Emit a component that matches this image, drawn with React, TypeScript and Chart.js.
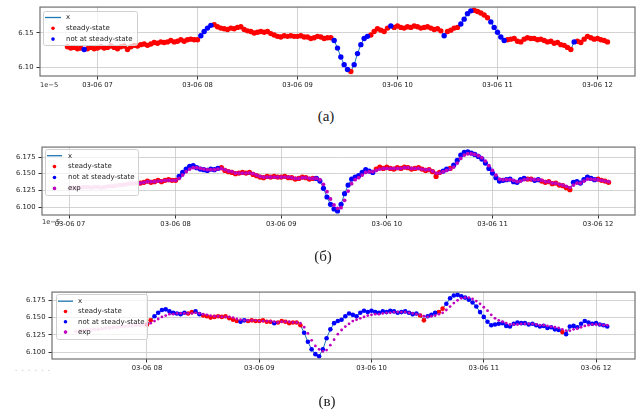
import React, { useEffect, useRef } from "react";
import { Chart, registerables } from "chart.js";
Chart.register(...registerables);

// ---------- data ----------
const STEP_MIN = 2;
const X_START = "06:42";
// raw signal x (1e-5 scaled values), one value every 2 minutes from 06:42 to 12:06
const X_VALUES = [
  6.130, 6.128, 6.129, 6.127, 6.128, 6.126, 6.127, 6.129, 6.127,
  6.128, 6.130, 6.128, 6.129, 6.131, 6.129, 6.127, 6.130, 6.131, 6.126, 6.130, 6.132, 6.131, 6.133, 6.134, 6.132, 6.134, 6.136, 6.135, 6.137, 6.136, 6.137, 6.139, 6.137, 6.138, 6.140, 6.138, 6.140, 6.141, 6.140,
  6.140, 6.146, 6.152, 6.157, 6.161, 6.162, 6.159, 6.157, 6.156, 6.155, 6.157, 6.156, 6.158, 6.159, 6.155, 6.153, 6.152, 6.150, 6.151, 6.152, 6.151, 6.152, 6.149, 6.147, 6.145, 6.144, 6.146, 6.145, 6.146, 6.145,
  6.145, 6.146, 6.144, 6.144, 6.142, 6.143, 6.145, 6.144, 6.142, 6.143, 6.143, 6.139, 6.128, 6.115, 6.104, 6.097, 6.094, 6.104, 6.120, 6.133, 6.142, 6.145, 6.147, 6.152, 6.156, 6.154, 6.152, 6.157, 6.160, 6.158,
  6.160, 6.158, 6.157, 6.159, 6.158, 6.160, 6.159, 6.157, 6.158, 6.159, 6.157, 6.155, 6.156, 6.153, 6.146, 6.152, 6.154, 6.157, 6.158, 6.163, 6.170, 6.178, 6.182, 6.183, 6.181, 6.179, 6.176, 6.172, 6.166, 6.158,
  6.151, 6.144, 6.139, 6.140, 6.141, 6.142, 6.138, 6.137, 6.141, 6.143, 6.142, 6.142, 6.140, 6.141, 6.139, 6.137, 6.138, 6.135, 6.136, 6.133, 6.132, 6.129, 6.126, 6.137, 6.138, 6.136, 6.141, 6.145, 6.143, 6.141,
  6.142, 6.140, 6.139, 6.137,
];

// exp series of panel (б), from 07:00
const EXP_B_START = "07:00";
const EXP_B = [
  6.128, 6.129, 6.129, 6.129, 6.130, 6.130, 6.129, 6.130, 6.130, 6.129, 6.130, 6.131, 6.131, 6.132, 6.133, 6.133, 6.134, 6.135, 6.135, 6.136, 6.136, 6.137, 6.138, 6.138, 6.138, 6.139, 6.139, 6.140, 6.140, 6.140,
  6.140, 6.143, 6.148, 6.153, 6.157, 6.159, 6.159, 6.158, 6.157, 6.156, 6.156, 6.156, 6.157, 6.158, 6.156, 6.154, 6.153, 6.151, 6.151, 6.151, 6.151, 6.151, 6.150, 6.148, 6.146, 6.145, 6.145, 6.145, 6.145, 6.145,
  6.145, 6.145, 6.145, 6.144, 6.143, 6.143, 6.144, 6.144, 6.143, 6.143, 6.143, 6.141, 6.134, 6.123, 6.112, 6.103, 6.098, 6.099, 6.110, 6.124, 6.135, 6.141, 6.144, 6.148, 6.152, 6.153, 6.153, 6.155, 6.157, 6.158,
  6.158, 6.158, 6.158, 6.158, 6.158, 6.159, 6.159, 6.158, 6.158, 6.158, 6.157, 6.156, 6.156, 6.154, 6.151, 6.151, 6.153, 6.155, 6.157, 6.160, 6.166, 6.173, 6.178, 6.180, 6.180, 6.179, 6.177, 6.174, 6.169, 6.162,
  6.155, 6.148, 6.142, 6.141, 6.141, 6.141, 6.140, 6.138, 6.139, 6.141, 6.142, 6.142, 6.141, 6.141, 6.140, 6.138, 6.138, 6.136, 6.136, 6.134, 6.133, 6.131, 6.129, 6.133, 6.136, 6.136, 6.139, 6.142, 6.142, 6.141,
  6.141, 6.140, 6.139, 6.138,
];

// exp series of panel (в), from 07:22
const EXP_C_START = "07:22";
const EXP_C = [
  6.130, 6.131, 6.131, 6.132, 6.132, 6.133, 6.133, 6.134, 6.135, 6.135, 6.136, 6.136, 6.137, 6.137, 6.138, 6.138, 6.139, 6.139, 6.140,
  6.140, 6.142, 6.145, 6.148, 6.151, 6.153, 6.155, 6.155, 6.156, 6.156, 6.156, 6.156, 6.156, 6.157, 6.156, 6.155, 6.154, 6.153, 6.152, 6.152, 6.151, 6.151, 6.151, 6.150, 6.148, 6.147, 6.146, 6.146, 6.146, 6.146,
  6.145, 6.145, 6.145, 6.145, 6.144, 6.143, 6.144, 6.144, 6.144, 6.143, 6.143, 6.142, 6.136, 6.127, 6.117, 6.109, 6.104, 6.101, 6.103, 6.110, 6.118, 6.126, 6.132, 6.137, 6.141, 6.145, 6.147, 6.149, 6.151, 6.153,
  6.154, 6.155, 6.155, 6.156, 6.157, 6.157, 6.158, 6.158, 6.158, 6.158, 6.157, 6.156, 6.155, 6.154, 6.152, 6.151, 6.152, 6.153, 6.155, 6.157, 6.161, 6.166, 6.171, 6.175, 6.178, 6.179, 6.179, 6.177, 6.174, 6.170,
  6.165, 6.160, 6.154, 6.149, 6.146, 6.144, 6.142, 6.140, 6.140, 6.140, 6.141, 6.141, 6.141, 6.141, 6.140, 6.139, 6.139, 6.138, 6.137, 6.136, 6.135, 6.133, 6.131, 6.131, 6.133, 6.134, 6.136, 6.138, 6.139, 6.140,
  6.140, 6.140, 6.139, 6.139,
];

// "not at steady-state" intervals per panel
const NONSTEADY_A = [["06:51", "06:53"], ["08:01", "08:09"], ["09:21", "09:31"], ["09:33", "09:43"], ["09:55", "09:57"], ["10:27", "10:29"], ["10:37", "10:45"], ["10:55", "11:05"], ["11:45", "11:47"]];
const NONSTEADY_B = [["08:01", "08:25"], ["09:19", "09:53"], ["10:31", "10:35"], ["10:37", "11:19"], ["11:23", "11:27"], ["11:45", "11:59"]];
const NONSTEADY_C = [["08:03", "08:21"], ["08:26", "08:28"], ["08:50", "08:52"], ["09:07", "09:09"], ["09:23", "10:25"], ["10:29", "10:35"], ["10:39", "11:41"], ["11:43", "12:07"]];

const X_TICKS_AB = [7, 8, 9, 10, 11, 12];
const X_TICKS_C = [8, 9, 10, 11, 12];
const Y_TICKS_A = [6.10, 6.15];
const Y_TICKS_BC = [6.100, 6.125, 6.150, 6.175];

// ---------- helpers ----------
const toMin = (s: string) => { const [h, m] = s.split(":").map(Number); return h * 60 + m; };
const inRanges = (t: number, r: string[][]) => r.some(([a, b]) => t >= toMin(a) && t <= toMin(b));
const series = (start: string, vals: number[]) => { const s = toMin(start); return vals.map((y, i) => ({ t: s + i * STEP_MIN, y })); };
const pt = (p: { t: number; y: number }) => ({ x: p.t / 60, y: p.y });

const FONT = "DejaVu Sans";

const framePlugin = {
  id: "frame",
  afterDatasetsDraw(chart: any) {
    const { ctx, chartArea: a } = chart;
    ctx.save();
    ctx.strokeStyle = "#707070";
    ctx.lineWidth = 1.2;
    ctx.strokeRect(a.left, a.top, a.right - a.left, a.bottom - a.top);
    ctx.restore();
  },
};

const legendPlugin = {
  id: "mplLegend",
  afterDatasetsDraw(chart: any, _args: any, o: any) {
    const ctx = chart.ctx;
    const items = chart.data.datasets.filter((d: any) => d.label);
    ctx.save();
    ctx.fillStyle = "rgba(255,255,255,0.72)";
    ctx.strokeStyle = "#d0d0d0";
    ctx.lineWidth = 1;
    ctx.beginPath();
    if (ctx.roundRect) ctx.roundRect(o.x + 0.5, o.y + 0.5, o.w, o.h, 2);
    else ctx.rect(o.x + 0.5, o.y + 0.5, o.w, o.h);
    ctx.fill();
    ctx.stroke();
    items.forEach((d: any, i: number) => {
      const cy = o.y + o.first + i * o.row;
      if (d.showLine) {
        ctx.strokeStyle = d.borderColor;
        ctx.lineWidth = 1.3;
        ctx.beginPath();
        ctx.moveTo(o.hx0, cy);
        ctx.lineTo(o.hx1, cy);
        ctx.stroke();
      } else {
        ctx.fillStyle = d.backgroundColor;
        ctx.beginPath();
        ctx.arc((o.hx0 + o.hx1) / 2, cy, o.dot, 0, Math.PI * 2);
        ctx.fill();
      }
      ctx.fillStyle = "#222";
      ctx.font = `7px "${FONT}"`;
      ctx.textBaseline = "middle";
      ctx.fillText(d.label, o.tx, cy);
    });
    ctx.restore();
  },
};

type PanelSpec = {
  from: string;
  nonSteady: string[][];
  exp?: { start: string; vals: number[]; r: number };
  r: number;
  xmin: number; xmax: number; ymin: number; ymax: number;
  xTicks: number[]; yTicks: number[]; yDec: number;
  padTop: number; yWidth: number; xHeight: number;
  legend: any;
};

function buildConfig(p: PanelSpec): any {
  const from = toMin(p.from);
  const raw = series(X_START, X_VALUES).filter((q) => q.t >= from);
  const datasets: any[] = [
    { label: "x", data: raw.map(pt), showLine: true, borderColor: "#1f77b4", borderWidth: 1, pointRadius: 0, order: 4 },
    { label: "steady-state", data: raw.filter((q) => !inRanges(q.t, p.nonSteady)).map(pt), backgroundColor: "#ff0000", pointRadius: p.r, pointBorderWidth: 0, borderWidth: 0, order: 3 },
    { label: "not at steady-state", data: raw.filter((q) => inRanges(q.t, p.nonSteady)).map(pt), backgroundColor: "#0000ff", pointRadius: p.r, pointBorderWidth: 0, borderWidth: 0, order: 2 },
  ];
  if (p.exp) {
    const e = series(p.exp.start, p.exp.vals);
    datasets.push({ label: "exp", data: e.filter((q) => q.t >= from).map(pt), backgroundColor: "#bf00bf", pointRadius: p.exp.r, pointBorderWidth: 0, borderWidth: 0, order: 0 });
    datasets.push({ label: "", data: e.filter((q) => q.t < from).map(pt), backgroundColor: "rgba(228,100,195,0.5)", pointRadius: p.exp.r + 0.5, pointBorderWidth: 0, borderWidth: 0, order: 1 });
  }
  const tickFont = { family: FONT, size: 6.8 };
  const grid = { color: "#c8c8c8", lineWidth: 0.8, tickColor: "#333", tickLength: 3.5, tickWidth: 1, drawTicks: true };
  return {
    type: "scatter",
    data: { datasets },
    options: {
      responsive: false,
      animation: false,
      events: [],
      layout: { padding: { top: p.padTop, right: 8, left: 0, bottom: 0 } },
      plugins: { legend: { display: false }, tooltip: { enabled: false }, mplLegend: p.legend },
      scales: {
        x: {
          type: "linear", min: p.xmin, max: p.xmax,
          afterBuildTicks: (s: any) => { s.ticks = p.xTicks.map((v) => ({ value: v })); },
          afterFit: (s: any) => { s.height = p.xHeight; },
          grid, border: { display: false },
          ticks: { font: tickFont, color: "#222", padding: 2, maxRotation: 0, autoSkip: false, callback: (v: any) => `03-06 ${String(v).padStart(2, "0")}` },
        },
        y: {
          type: "linear", min: p.ymin, max: p.ymax,
          afterBuildTicks: (s: any) => { s.ticks = p.yTicks.map((v) => ({ value: v })); },
          afterFit: (s: any) => { s.width = p.yWidth; },
          grid, border: { display: false },
          ticks: { font: tickFont, color: "#222", padding: 3, autoSkip: false, callback: (v: any) => Number(v).toFixed(p.yDec) },
        },
      },
    },
    plugins: [framePlugin, legendPlugin],
  };
}

const PANELS: { top: number; height: number; spec: PanelSpec }[] = [
  {
    top: 0, height: 92,
    spec: {
      from: "06:42", nonSteady: NONSTEADY_A, r: 2.7,
      xmin: 6.425, xmax: 12.375, ymin: 6.0875, ymax: 6.1875,
      xTicks: X_TICKS_AB, yTicks: Y_TICKS_A, yDec: 2,
      padTop: 7, yWidth: 40, xHeight: 16,
      legend: { x: 43, y: 11, w: 94, h: 34, first: 6.5, row: 10.8, hx0: 45, hx1: 61, tx: 66, dot: 1.8 },
    },
  },
  {
    top: 140, height: 92,
    spec: {
      from: "07:40", nonSteady: NONSTEADY_B, r: 2.6, exp: { start: EXP_B_START, vals: EXP_B, r: 1.9 },
      xmin: 6.735, xmax: 12.35, ymin: 6.088, ymax: 6.190,
      xTicks: X_TICKS_AB, yTicks: Y_TICKS_BC, yDec: 3,
      padTop: 6, yWidth: 42, xHeight: 17,
      legend: { x: 45, y: 9, w: 93, h: 46, first: 6.7, row: 10.9, hx0: 47, hx1: 62, tx: 68, dot: 1.8 },
    },
  },
  {
    top: 285, height: 92,
    spec: {
      from: "08:00", nonSteady: NONSTEADY_C, r: 2.3, exp: { start: EXP_C_START, vals: EXP_C, r: 1.4 },
      xmin: 7.154, xmax: 12.347, ymin: 6.090, ymax: 6.187,
      xTicks: X_TICKS_C, yTicks: Y_TICKS_BC, yDec: 3,
      padTop: 7, yWidth: 52, xHeight: 18,
      legend: { x: 56, y: 9, w: 91, h: 45, first: 7.2, row: 10.3, hx0: 58, hx1: 73, tx: 78, dot: 1.8 },
    },
  },
];

const CAPTIONS = [
  { text: "(а)", cx: 326, cy: 117 },
  { text: "(б)", cx: 323, cy: 257 },
  { text: "(в)", cx: 327, cy: 402 },
];

export default function App() {
  const refs = [useRef<HTMLCanvasElement>(null), useRef<HTMLCanvasElement>(null), useRef<HTMLCanvasElement>(null)];
  useEffect(() => {
    const charts = PANELS.map((p, i) => new Chart(refs[i].current as HTMLCanvasElement, buildConfig(p.spec)));
    return () => charts.forEach((c) => c.destroy());
  }, []);
  return (
    <div style={{ position: "absolute", left: 0, top: 0, width: 643, height: 412, background: "#fff", overflow: "hidden" }}>
      {PANELS.map((p, i) => (
        <canvas key={i} ref={refs[i]} width={643} height={p.height}
          style={{ position: "absolute", left: 0, top: p.top, width: 643, height: p.height }} />
      ))}
      <div style={{ position: "absolute", left: 40, top: 81, font: `6.7px "${FONT}"`, color: "#333" }}>1e−5</div>
      <div style={{ position: "absolute", left: 42, top: 218, font: `6.7px "${FONT}"`, color: "#333" }}>1e−5</div>
      <div style={{ position: "absolute", left: 15, top: 366, font: `6.7px "${FONT}"`, color: "#bbb", letterSpacing: 1 }}>- - - - - -</div>
      {CAPTIONS.map((c, i) => (
        <div key={i} style={{ position: "absolute", left: c.cx - 25, width: 50, top: c.cy - 9, lineHeight: "18px", textAlign: "center", font: `15px "Liberation Serif"`, color: "#222" }}>{c.text}</div>
      ))}
    </div>
  );
}
